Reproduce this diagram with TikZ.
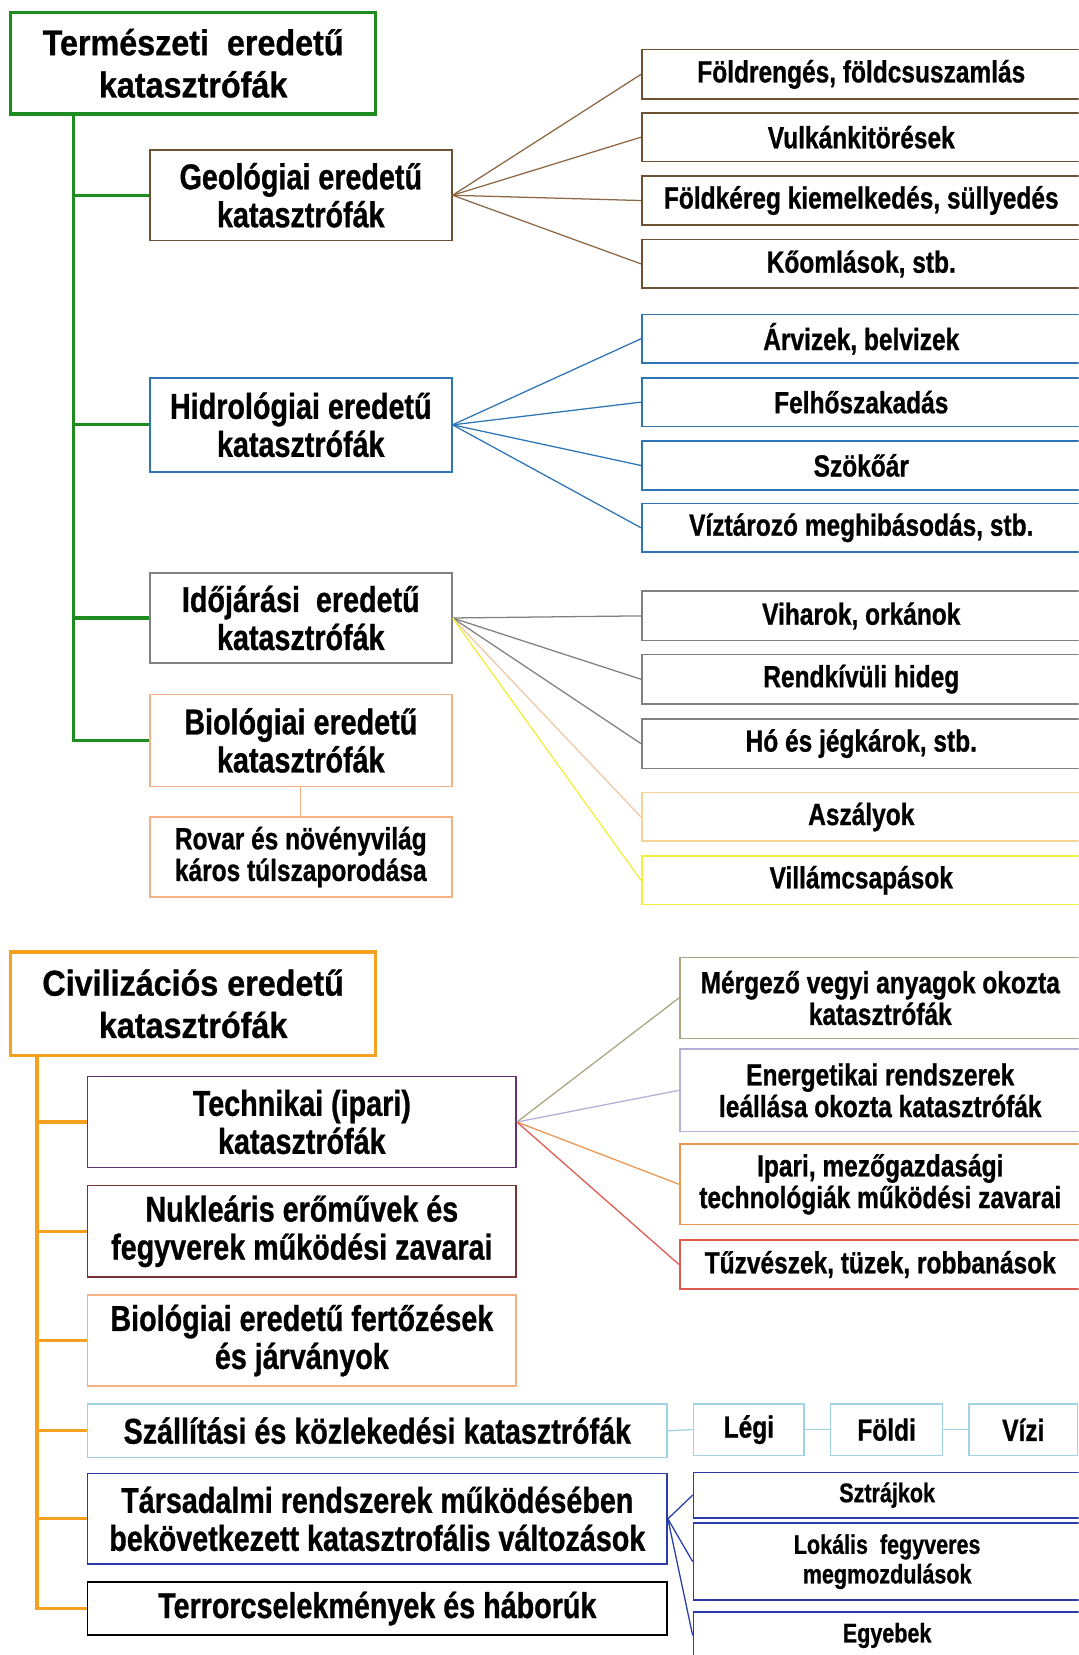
\documentclass[tikz,border=0pt]{standalone}
\usepackage{fontspec}
\setmainfont{Liberation Sans}[FakeStretch=0.8, BoldFeatures={FakeBold=0.8}]
\newfontfamily\titlefont{Liberation Sans}[FakeStretch=0.9, BoldFeatures={FakeBold=0.8}]
\definecolor{natgreen}{RGB}{30,140,30}
\definecolor{geobrown}{RGB}{110,80,50}
\definecolor{geoline}{RGB}{140,105,70}
\definecolor{hydblue}{RGB}{46,117,182}
\definecolor{wgray}{RGB}{128,128,128}
\definecolor{biosalmon}{RGB}{244,177,131}
\definecolor{aszaly}{RGB}{245,212,150}
\definecolor{aszline}{RGB}{238,200,165}
\definecolor{villam}{RGB}{240,240,60}
\definecolor{civorange}{RGB}{245,160,30}
\definecolor{techpurple}{RGB}{100,50,110}
\definecolor{nukred}{RGB}{120,50,50}
\definecolor{szalblue}{RGB}{160,210,225}
\definecolor{tarblue}{RGB}{40,60,170}
\definecolor{merg}{RGB}{170,165,130}
\definecolor{energ}{RGB}{180,175,215}
\definecolor{ipari}{RGB}{237,150,80}
\definecolor{tuz}{RGB}{225,90,80}
\begin{document}
\begin{tikzpicture}[x=1pt,y=-1pt,
  box/.style={draw, rectangle, inner sep=0pt, align=center, line width=1.5pt, fill=white},
  topbox/.style={box, line width=3pt, font=\titlefont\bfseries\fontsize{34}{40}\selectfont},
  fsub/.style={font=\bfseries\fontsize{34}{36}\selectfont},
  fleaf/.style={font=\bfseries\fontsize{29}{30}\selectfont},
  fsmall/.style={font=\bfseries\fontsize{25.5}{28}\selectfont},
  trunk/.style={line width=3pt},
  fan/.style={line width=1.2pt}]
\path[clip] (0,0) rectangle (1022,1568);
\useasboundingbox (0,0) rectangle (1022,1568);
\fill[white] (0,0) rectangle (1022,1568);
\coordinate (ntrunk) at (70,0);
\coordinate (ctrunk) at (35,0);

% ---------- natural ----------
\node[topbox, draw=natgreen, minimum width=346pt, minimum height=96pt] (nat) at (183,60) {Természeti~ eredetű\\katasztrófák};
\node[box, fsub, draw=geobrown, minimum width=286pt, minimum height=86pt] (geo) at (285,185) {Geológiai eredetű\\katasztrófák};
\node[box, fsub, draw=hydblue, minimum width=286pt, minimum height=89pt] (hyd) at (285,402.5) {Hidrológiai eredetű\\katasztrófák};
\node[box, fsub, draw=wgray, minimum width=286pt, minimum height=85pt] (ido) at (285,585.5) {Időjárási~ eredetű\\katasztrófák};
\node[box, fsub, draw=biosalmon, minimum width=286pt, minimum height=87pt] (bio) at (285,701.5) {Biológiai eredetű\\katasztrófák};
\node[box, fleaf, draw=biosalmon, minimum width=286pt, minimum height=76pt] (rov) at (285,812) {Rovar és növényvilág\\káros túlszaporodása};

\draw[trunk, natgreen] (nat.south -| ntrunk) |- (bio.west);
\foreach \n in {geo,hyd,ido} \draw[trunk, natgreen] (\n.west) -- (\n.west -| ntrunk);
\draw[fan, biosalmon] (bio.south) -- (rov.north);

\node[box, fleaf, draw=geobrown, minimum width=416pt, minimum height=47pt] (g1) at (816,70.5) {Földrengés, földcsuszamlás};
\node[box, fleaf, draw=geobrown, minimum width=416pt, minimum height=46pt] (g2) at (816,130) {Vulkánkitörések};
\node[box, fleaf, draw=geobrown, minimum width=416pt, minimum height=46pt] (g3) at (816,190) {Földkéreg kiemelkedés, süllyedés};
\node[box, fleaf, draw=geobrown, minimum width=416pt, minimum height=46pt] (g4) at (816,250) {Kőomlások, stb.};
\foreach \n in {g1,g2,g3,g4} \draw[fan, geoline] (geo.east) -- (\n.west);

\node[box, fleaf, draw=hydblue, minimum width=416pt, minimum height=46pt] (h1) at (816,321) {Árvizek, belvizek};
\node[box, fleaf, draw=hydblue, minimum width=416pt, minimum height=46pt] (h2) at (816,381) {Felhőszakadás};
\node[box, fleaf, draw=hydblue, minimum width=416pt, minimum height=46pt] (h3) at (816,441) {Szökőár};
\node[box, fleaf, draw=hydblue, minimum width=416pt, minimum height=46pt] (h4) at (816,500) {Víztározó meghibásodás, stb.};
\foreach \n in {h1,h2,h3,h4} \draw[fan, hydblue] (hyd.east) -- (\n.west);

\node[box, fleaf, draw=wgray, minimum width=416pt, minimum height=47pt] (w1) at (816,583.5) {Viharok, orkánok};
\node[box, fleaf, draw=wgray, minimum width=416pt, minimum height=47pt] (w2) at (816,643.5) {Rendkívüli hideg};
\node[box, fleaf, draw=wgray, minimum width=416pt, minimum height=47pt] (w3) at (816,704.5) {Hó és jégkárok, stb.};
\node[box, fleaf, draw=aszaly, minimum width=416pt, minimum height=46pt] (w4) at (816,774) {Aszályok};
\node[box, fleaf, draw=villam, minimum width=416pt, minimum height=46pt] (w5) at (816,834) {Villámcsapások};
\foreach \n in {w1,w2,w3} \draw[fan, wgray] (ido.east) -- (\n.west);
\draw[fan, aszline] (ido.east) -- (w4.west);
\draw[fan, villam] (ido.east) -- (w5.west);

% ---------- civilisation ----------
\node[topbox, draw=civorange, minimum width=346pt, minimum height=98pt] (civ) at (183,951) {Civilizációs eredetű\\katasztrófák};
\node[box, fsub, draw=techpurple, minimum width=406pt, minimum height=86pt] (tech) at (286,1063) {Technikai (ipari)\\katasztrófák};
\node[box, fsub, draw=nukred, minimum width=406pt, minimum height=87pt] (nuk) at (286,1166.5) {Nukleáris erőművek és\\fegyverek működési zavarai};
\node[box, fsub, draw=biosalmon, minimum width=406pt, minimum height=86pt] (fer) at (286,1270) {Biológiai eredetű fertőzések\\és járványok};
\node[box, fsub, draw=szalblue, minimum width=549pt, minimum height=51pt] (szal) at (357.5,1355.5) {Szállítási és közlekedési katasztrófák};
\node[box, fsub, draw=tarblue, minimum width=549pt, minimum height=86pt] (tar) at (357.5,1439) {Társadalmi rendszerek működésében\\bekövetkezett katasztrofális változások};
\node[box, fsub, draw=black, minimum width=549pt, minimum height=50pt] (ter) at (357.5,1524) {Terrorcselekmények és háborúk};

\draw[trunk, civorange] (civ.south -| ctrunk) |- (ter.west);
\foreach \n in {tech,nuk,fer,szal,tar} \draw[trunk, civorange] (\n.west) -- (\n.west -| ctrunk);

\node[box, fleaf, draw=merg, minimum width=380pt, minimum height=77pt] (m1) at (834,945.5) {Mérgező vegyi anyagok okozta\\katasztrófák};
\node[box, fleaf, draw=energ, minimum width=380pt, minimum height=78pt] (m2) at (834,1033) {Energetikai rendszerek\\leállása okozta katasztrófák};
\node[box, fleaf, draw=ipari, minimum width=380pt, minimum height=76pt] (m3) at (834,1122) {Ipari, mezőgazdasági\\technológiák működési zavarai};
\node[box, fleaf, draw=tuz, minimum width=380pt, minimum height=46pt] (m4) at (834,1198) {Tűzvészek, tüzek, robbanások};
\draw[fan, merg] (tech.east) -- (m1.west);
\draw[fan, energ] (tech.east) -- (m2.west);
\draw[fan, ipari] (tech.east) -- (m3.west);
\draw[fan, tuz] (tech.east) -- (m4.west);

\node[box, fleaf, draw=szalblue, minimum width=105pt, minimum height=49pt] (legi) at (709.5,1354.5) {Légi};
\node[box, fleaf, draw=szalblue, minimum width=106pt, minimum height=49pt] (foldi) at (840,1354.5) {Földi};
\node[box, fleaf, draw=szalblue, minimum width=103pt, minimum height=49pt] (vizi) at (969.5,1354.5) {Vízi};
\draw[fan, szalblue] (szal.east) -- (legi.west);
\draw[fan, szalblue] (legi.east) -- (foldi.west);
\draw[fan, szalblue] (foldi.east) -- (vizi.west);

\node[box, fsmall, draw=tarblue, minimum width=367pt, minimum height=43pt] (s1) at (840.5,1416.5) {Sztrájkok};
\node[box, fsmall, draw=tarblue, minimum width=367pt, minimum height=73pt] (s2) at (840.5,1479.5) {Lokális~ fegyveres\\megmozdulások};
\node[box, fsmall, draw=tarblue, minimum width=367pt, minimum height=45pt] (s3) at (840.5,1549.5) {Egyebek};
\foreach \n in {s1,s2,s3} \draw[fan, tarblue] (tar.east) -- (\n.west);
\end{tikzpicture}
\end{document}
